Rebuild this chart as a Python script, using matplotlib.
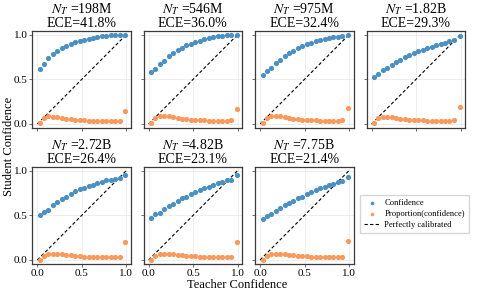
import matplotlib
matplotlib.use("Agg")
import matplotlib.pyplot as plt

plt.rcParams['font.family'] = ['Liberation Serif', 'DejaVu Serif']
plt.rcParams['mathtext.fontset'] = 'stix'

x_conf = [0.03, 0.075, 0.125, 0.175, 0.225, 0.275, 0.325, 0.375, 0.425, 0.475,
          0.525, 0.575, 0.625, 0.675, 0.725, 0.775, 0.825, 0.875, 0.925, 0.99]

model_sizes = ["198M", "546M", "975M", "1.82B", "2.72B", "4.82B", "7.75B"]
ece_values = ["41.8", "36.0", "32.4", "29.3", "26.4", "23.1", "21.4"]

conf_198M = [0.62, 0.676, 0.74, 0.788, 0.82, 0.85, 0.877, 0.90, 0.914, 0.929,
             0.944, 0.955, 0.966, 0.974, 0.981, 0.989, 0.993, 0.996, 0.996, 1.0]
conf_546M = [0.58, 0.62, 0.67, 0.71, 0.76, 0.79, 0.83, 0.85, 0.88, 0.90,
             0.92, 0.93, 0.95, 0.96, 0.97, 0.98, 0.985, 0.99, 0.99, 1.0]
conf_975M = [0.55, 0.59, 0.63, 0.68, 0.72, 0.76, 0.79, 0.82, 0.85, 0.87,
             0.89, 0.91, 0.925, 0.94, 0.95, 0.96, 0.97, 0.975, 0.98, 0.99]
conf_182B = [0.53, 0.56, 0.60, 0.63, 0.66, 0.69, 0.72, 0.75, 0.77, 0.79,
             0.82, 0.83, 0.85, 0.865, 0.88, 0.90, 0.91, 0.93, 0.94, 0.98]
conf_272B = [0.50, 0.535, 0.56, 0.61, 0.65, 0.68, 0.71, 0.74, 0.766, 0.79,
             0.81, 0.825, 0.844, 0.86, 0.87, 0.89, 0.90, 0.91, 0.92, 0.955]
conf_482B = [0.47, 0.51, 0.53, 0.57, 0.60, 0.63, 0.66, 0.69, 0.71, 0.74,
             0.76, 0.78, 0.80, 0.82, 0.84, 0.86, 0.87, 0.89, 0.90, 0.95]
conf_775B = [0.455, 0.49, 0.51, 0.55, 0.58, 0.61, 0.64, 0.66, 0.69, 0.71,
             0.74, 0.76, 0.78, 0.80, 0.82, 0.84, 0.85, 0.87, 0.88, 0.93]

prop_198M = [0.007, 0.063, 0.093, 0.082, 0.074, 0.067, 0.06, 0.052, 0.048, 0.045,
             0.041, 0.037, 0.033, 0.033, 0.03, 0.03, 0.03, 0.03, 0.033, 0.141]
prop_546M = [0.01, 0.07, 0.09, 0.09, 0.085, 0.075, 0.07, 0.06, 0.055, 0.05,
             0.045, 0.04, 0.04, 0.035, 0.035, 0.035, 0.035, 0.035, 0.04, 0.17]
prop_975M = [0.01, 0.07, 0.09, 0.09, 0.085, 0.075, 0.065, 0.06, 0.055, 0.05,
             0.045, 0.04, 0.04, 0.035, 0.035, 0.035, 0.035, 0.035, 0.04, 0.18]
prop_182B = [0.01, 0.065, 0.08, 0.08, 0.075, 0.07, 0.06, 0.055, 0.05, 0.045,
             0.04, 0.04, 0.035, 0.035, 0.035, 0.035, 0.035, 0.035, 0.04, 0.19]
prop_272B = [0.004, 0.04, 0.063, 0.07, 0.07, 0.063, 0.056, 0.052, 0.045, 0.041,
             0.037, 0.033, 0.03, 0.03, 0.03, 0.03, 0.03, 0.033, 0.037, 0.20]
prop_482B = [0.005, 0.05, 0.065, 0.07, 0.07, 0.065, 0.06, 0.055, 0.05, 0.045,
             0.04, 0.035, 0.035, 0.03, 0.03, 0.03, 0.03, 0.03, 0.035, 0.20]
prop_775B = [0.005, 0.05, 0.065, 0.07, 0.07, 0.065, 0.06, 0.055, 0.05, 0.045,
             0.04, 0.035, 0.035, 0.03, 0.03, 0.03, 0.03, 0.03, 0.035, 0.21]

conf_series = [conf_198M, conf_546M, conf_975M, conf_182B, conf_272B, conf_482B, conf_775B]
prop_series = [prop_198M, prop_546M, prop_975M, prop_182B, prop_272B, prop_482B, prop_775B]

blue = '#4a90c2'
orange = '#f99a5c'

W, H = 478, 295
fig = plt.figure(figsize=(W / 100, H / 100), dpi=100)

lefts = [32.3, 143.6, 255.0, 366.5]
aw, ah = 98.5, 97
tops = [31, 167]

axes = []
for i in range(7):
    r, c = divmod(i, 4)
    ax = fig.add_axes([lefts[c] / W, (H - tops[r] - ah) / H, aw / W, ah / H])
    axes.append(ax)
    ax.set_xlim(-0.057, 1.05)
    ax.set_ylim(-0.045, 1.04)
    ax.set_xticks([0.0, 0.5, 1.0])
    ax.set_yticks([0.0, 0.5, 1.0])
    ax.grid(True, color='#ebebeb', lw=0.6)
    ax.set_axisbelow(True)
    for s in ax.spines.values():
        s.set_color('#3a3a3a')
        s.set_linewidth(0.9)
    ax.tick_params(length=2.5, width=0.6, color='#555555', labelsize=8, pad=1.0)
    if r == 0:
        ax.tick_params(labelbottom=False)
    if c != 0:
        ax.tick_params(labelleft=False)
    ax.plot([0, 1], [0, 1], ls='--', color='black', lw=0.8, zorder=2,
            dashes=(3, 2), label='Perfectly calibrated')
    ax.scatter(x_conf, conf_series[i], s=14, color=blue, lw=0, zorder=3,
               label='Confidence')
    ax.scatter(x_conf, prop_series[i], s=14, color=orange, lw=0, zorder=3,
               label='Proportion(confidence)')
    ax.set_title(r'$N_T$ =' + model_sizes[i] + '\nECE=' + ece_values[i] + '%',
                 fontsize=10, linespacing=0.95, pad=3)

handles, labels = axes[0].get_legend_handles_labels()
order = [1, 2, 0]
fig.legend([handles[k] for k in order], [labels[k] for k in order],
           loc='center left', bbox_to_anchor=(358 / W, 1 - 214 / H),
           fontsize=6.1, frameon=True, fancybox=False, edgecolor='#cccccc',
           handlelength=1.8, handletextpad=0.6, markerscale=0.7,
           borderpad=0.5, labelspacing=0.3, borderaxespad=0.2)

fig.text(237 / W, 1 - 285 / H, 'Teacher Confidence', ha='center', va='center', fontsize=9)
fig.text(9 / W, 1 - 146 / H, 'Student Confidence', ha='center', va='center',
         fontsize=9, rotation=90)

fig.savefig('out.png', dpi=100)
